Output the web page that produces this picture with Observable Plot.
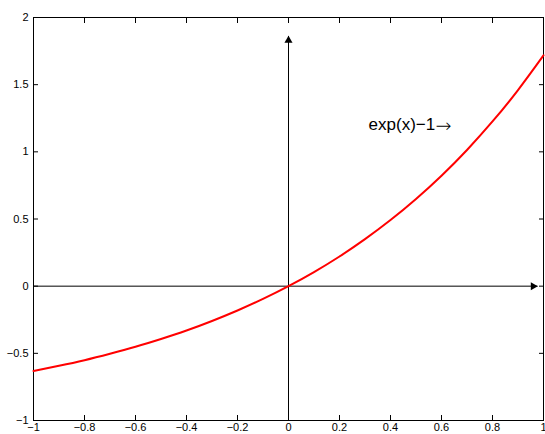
<!DOCTYPE html>
<html><head><meta charset="utf-8">
<script src="https://cdn.jsdelivr.net/npm/d3@7"></script>
<script src="https://cdn.jsdelivr.net/npm/@observablehq/plot@0.6"></script>
<style>body{margin:0;background:#fff}svg{display:block}</style>
</head><body><div id="chart"></div>
<script>
// curve exp(x)-1
const curveX = [-1,-0.9,-0.8,-0.7,-0.6,-0.5,-0.4,-0.3,-0.2,-0.1,0,0.1,0.2,0.3,0.4,0.5,0.6,0.7,0.8,0.9,1];
const curveY = [-0.632,-0.593,-0.551,-0.503,-0.451,-0.393,-0.330,-0.259,-0.181,-0.095,0,0.105,0.221,0.350,0.492,0.649,0.822,1.014,1.226,1.460,1.718];
const xTicks = [-1,-0.8,-0.6,-0.4,-0.2,0,0.2,0.4,0.6,0.8,1];
const yTicks = [-1,-0.5,0,0.5,1,1.5,2];
const annotationText = "exp(x)−1";
const annotationArrow = "→";
const annotationX = [0.314];
const annotationY = [1.2];
// axis arrows (start and end in data units)
const hArrowX = [-1, 0.975], hArrowY = [0, 0];
const vArrowX = [0, 0], vArrowY = [-1, 1.86];

const fmt = d => d3.format("")(d).replace("-", "−");
const curve = curveX.map((x, i) => ({x, y: curveY[i]}));

const chart = Plot.plot({
  width: 545, height: 434,
  marginLeft: 33, marginRight: 2, marginTop: 17, marginBottom: 14,
  style: {fontFamily: "'Liberation Sans', Arial, sans-serif", fontSize: "11px", color: "#000", background: "#fff"},
  x: {domain: [-1, 1]},
  y: {domain: [-1, 2]},
  marks: [
    Plot.frame({stroke: "#000"}),
    Plot.axisX(xTicks, {anchor: "bottom", tickSize: -5, text: null, label: null, stroke: "#000"}),
    Plot.axisX(xTicks, {anchor: "top", tickSize: -5, text: null, label: null, stroke: "#000"}),
    Plot.axisY(yTicks, {anchor: "left", tickSize: -5, text: null, label: null, stroke: "#000"}),
    Plot.axisY(yTicks, {anchor: "right", tickSize: -5, text: null, label: null, stroke: "#000"}),
    Plot.axisX(xTicks, {anchor: "bottom", tickSize: 0, tickPadding: 3, tickFormat: fmt, label: null, fill: "#000"}),
    Plot.axisY(yTicks, {anchor: "left", tickSize: 0, tickPadding: 5, tickFormat: fmt, label: null, fill: "#000"}),
    Plot.line([0,1].map(i => ({x: hArrowX[i], y: hArrowY[i]})), {x: "x", y: "y", stroke: "#000", strokeWidth: 1}),
    Plot.line([0,1].map(i => ({x: vArrowX[i], y: vArrowY[i]})), {x: "x", y: "y", stroke: "#000", strokeWidth: 1}),
    Plot.dot([{x: hArrowX[1], y: hArrowY[1]}], {x: "x", y: "y", symbol: "triangle", r: 3, rotate: 90, dx: -4, fill: "#000", stroke: "none"}),
    Plot.dot([{x: vArrowX[1], y: vArrowY[1]}], {x: "x", y: "y", symbol: "triangle", r: 3, rotate: 0, dy: 4, fill: "#000", stroke: "none"}),
    Plot.line(curve, {x: "x", y: "y", stroke: "#ff0000", strokeWidth: 2, curve: "natural"}),
    Plot.text([annotationText], {x: () => annotationX[0], y: () => annotationY[0], text: d => d, textAnchor: "start", fontSize: 17, fill: "#000"}),
    Plot.text([annotationArrow], {x: () => annotationX[0], y: () => annotationY[0], text: d => d, textAnchor: "start", dx: 67, dy: 1, fontSize: 19, fontWeight: 200, fontFamily: "'DejaVu Sans', sans-serif", fill: "#000"})
  ]
});
document.getElementById("chart").appendChild(chart);
</script></body></html>
